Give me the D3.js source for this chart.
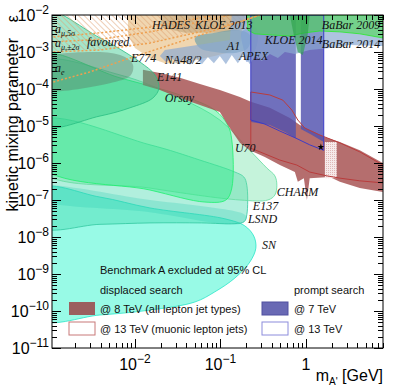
<!DOCTYPE html>
<html>
<head>
<meta charset="utf-8">
<script src="https://cdn.jsdelivr.net/npm/d3@7"></script>
<style>
body { margin: 0; background: #fff; }
svg { display: block; }
.lab { font-family: "Liberation Serif", serif; font-style: italic; font-size: 12px; fill: #111; }
.leg { font-family: "Liberation Sans", Arial, sans-serif; font-size: 11px; fill: #111; }
.tick { font-family: "Liberation Sans", Arial, sans-serif; font-size: 16px; fill: #000; }
</style>
</head>
<body>
<script>
// regions as [mass (GeV), epsilon]
var sn = [[7e-4,1.86e-7],[3.9e-3,1.2e-7],[0.015,6.1e-8],[0.113,3.1e-8],[0.193,2.0e-8],[0.246,1.06e-8],[0.26,5.0e-9],
  [0.221,2.1e-9],[0.148,7.8e-10],[0.0862,3.3e-10],[0.0503,1.75e-10],[0.015,1.06e-10],[3.9e-3,7.8e-11],[7e-4,6.5e-11]];
var e137 = [[7e-4,2.1e-8],[3.9e-3,2.2e-8],[0.015,2.4e-8],[0.06,2.4e-8],[0.148,2.3e-8],[0.19,2.6e-8],[0.204,4.0e-8],
  [0.204,2.5e-7],[0.188,4.2e-7],[0.148,5.7e-7],[0.0576,1.2e-6],[0.015,3.1e-6],[7e-4,1.28e-5]];
var lsnd = [[7e-4,2.2e-7],[0.015,1.0e-7],[0.148,5.0e-8],[0.188,4.2e-8],[0.204,3.3e-8],[0.183,2.4e-8],
  [0.129,2.2e-8],[0.015,4.7e-8],[7e-4,1.13e-7]];
var charm = [[7e-4,5e-4],[6.68e-3,2.4e-4],[0.0336,5.7e-5],[0.0986,1.45e-5],[0.221,2.2e-6],[0.35,7.3e-7],
  [0.434,4.5e-7],[0.458,2.5e-7],[0.434,1.36e-7],[0.36,1.0e-7],[0.169,1.0e-7],[0.015,2.1e-7],[7e-4,7.3e-7]];
var u70 = [[7e-4,8.3e-4],[6.68e-3,2.0e-4],[0.0336,6.9e-5],[0.0862,2.7e-5],[0.122,1.06e-5],[0.136,4.2e-6],
  [0.136,2.1e-7],[0.116,1.0e-7],[0.0659,8.8e-8],[0.015,1.86e-7],[7e-4,1.0e-6]];
var e141 = [[7e-4,1.5e-2],[3.9e-3,2.4e-3],[0.0114,5.4e-4],[0.0171,2.4e-4],[0.0191,1.06e-4],[0.0162,5.7e-5],
  [8.74e-3,3.1e-5],[3.9e-3,1.86e-5],[7e-4,1.06e-5]];
var e774 = [[7e-4,5.4e-4],[3.9e-3,1e-3],[7.64e-3,7.3e-4],[9.48e-3,4.5e-4],[8.98e-3,2.4e-4],[5.83e-3,1.55e-4],[7e-4,1.06e-4]];
var na48 = [[8.28e-3,1e-2],[8.28e-3,2.9e-3],[0.01,1.28e-3],[0.015,6.9e-4],[0.0224,5.0e-4],[0.0385,5.0e-4],
  [0.0576,6.5e-4],[0.0862,7.8e-4],[0.129,1e-3],[0.169,1.55e-3],[0.193,1e-2]];
var kloe13 = [[0.0196,1e-2],[0.0207,4.5e-3],[0.0385,3.3e-3],[0.0862,3.3e-3],[0.169,3.9e-3],[0.253,5.4e-3],[0.253,1e-2]];
var a1 = [[0.0503,2.4e-3],[0.0862,3.3e-3],[0.169,3.9e-3],[0.221,2.9e-3],[0.21,1.28e-3],[0.148,9.4e-4],[0.0862,1e-3],[0.0576,1.28e-3]];
var apex = [[0.178,3.5e-3],[0.26,4.5e-3],[0.275,2.1e-3],[0.24,8.3e-4],[0.204,5.4e-4],[0.188,1.13e-3]];
var babar14 = [[0.136,1e-2],[7.96,1e-2],[7.96,1.45e-3],[3.27,1.55e-3],[1.91,1.28e-3],[1.11,1.13e-3],[0.744,8.8e-4],
  [0.568,1e-3],[0.471,6.9e-4],[0.379,8.8e-4],[0.306,5.7e-4],[0.253,7.8e-4],[0.221,4.7e-4],[0.188,8.3e-4],
  [0.16,5.0e-4],[0.136,8.3e-4],[0.116,4.7e-4],[0.0986,7.8e-4],[0.0839,5.0e-4],[0.0714,7.3e-4],[0.0608,4.7e-4],
  [0.0517,6.9e-4],[0.044,4.5e-4],[0.0374,6.5e-4],[0.0318,4.7e-4],[0.0271,6.9e-4],[0.0231,5.4e-4],[0.0196,7.8e-4],
  [0.0224,1.13e-3],[0.129,2.1e-3]];
var babar09 = [[0.204,1e-2],[7.96,1e-2],[7.96,2.4e-3],[4.28,3.1e-3],[2.5,3.5e-3],[1.46,3.7e-3],[0.973,3.3e-3],
  [0.65,2.7e-3],[0.379,2.9e-3],[0.253,3.1e-3],[0.21,3.9e-3]];
var kloe14 = [[0.65,1e-2],[1.11,1e-2],[1.05,2.9e-3],[0.923,8.3e-4],[0.806,1e-3],[0.724,2.9e-3]];

var amu5 = [[1e-3,2.5e-3],[3.9e-3,3.3e-3],[0.015,4.7e-3],[0.0576,8.3e-3],[0.0862,1e-2]];
var amuUp = [[1e-3,1.86e-3],[3.9e-3,2.2e-3],[0.015,3.5e-3],[0.0576,6.5e-3],[0.129,1e-2]];
var amuLo = [[1e-3,1e-3],[3.9e-3,1.13e-3],[0.015,1.75e-3],[0.0576,3.5e-3],[0.169,6.5e-3],[0.29,1e-2]];
var ae = [[1e-3,1.45e-4],[2.98e-3,2.9e-4],[8.74e-3,6.9e-4],[0.0257,1.55e-3],[0.0753,3.5e-3],[0.29,1e-2]];

// ATLAS lepton-jet exclusions
var disp8 = [[0.0124,3.3e-4],[0.0196,2.7e-4],[0.0336,2.0e-4],[0.0576,1.36e-4],[0.0986,9.4e-5],[0.169,6.1e-5],
  [0.227,4.5e-5],[0.379,3.1e-5],[0.65,1.64e-5],[0.851,1.06e-5],[1.11,7.8e-6],[1.67,5.0e-6],[2.5,3.7e-6],
  [4.28,2.2e-6],[7.96,1.0e-6],[7.96,1.64e-7],[4.28,2.1e-7],[2.5,3.1e-7],[1.91,4.2e-7],[1.11,3.9e-7],
  [1.03,1.0e-7],[0.948,3.9e-7],[0.806,3.1e-7],[0.744,5.7e-7],[0.497,8.8e-7],[0.331,1.45e-6],[0.221,2.2e-6],
  [0.169,3.5e-6],[0.122,1.06e-5],[0.0986,2.4e-5],[0.0576,3.7e-5],[0.0336,5.7e-5],[0.0196,9.4e-5],[0.0124,1.28e-4]];
var disp13 = [[0.227,8.3e-5],[0.379,6.9e-5],[0.538,5.0e-5],[0.686,2.7e-5],[0.806,1.45e-5],[0.973,8.8e-6],
  [1.46,5.7e-6],[2.5,3.5e-6],[4.28,2.0e-6],[7.96,8.8e-7],[7.96,2.9e-7],[4.28,3.3e-7],[2.5,3.9e-7],
  [1.76,4.5e-7],[1.11,5.7e-7],[0.785,8.8e-7],[0.497,1.2e-6],[0.29,2.0e-6],[0.227,2.5e-6]];
var prompt7a = [[0.227,1e-2],[0.764,1e-2],[0.764,4.7e-6],[0.568,6.9e-6],[0.379,1.06e-5],[0.227,1.28e-5]];
var prompt7b = [[0.874,1e-2],[1.62,1e-2],[1.62,3.7e-6],[1.18,5.7e-6],[0.874,8.3e-6]];
var prompt13 = [[0.227,1e-2],[0.227,1.45e-5],[0.331,1.13e-5],[0.497,7.3e-6],[0.764,4.7e-6],[1.11,3.1e-6],[1.62,2.2e-6],[1.62,1e-2]];
var vetoBox = [[1.67,3.7e-6],[2.3,3.7e-6],[2.3,3.9e-7],[1.67,3.9e-7]];
var starPt = [1.5, 2.7e-6];

var labels = [
  ["HADES", 0.0158, 4.2e-3], ["KLOE 2013", 0.0503, 4.2e-3], ["BaBar 2009", 1.54, 4.2e-3],
  ["KLOE 2014", 0.331, 1.64e-3], ["BaBar 2014", 1.54, 1.28e-3], ["A1", 0.119, 1.13e-3],
  ["APEX", 0.165, 6.1e-4], ["E774", 8.98e-3, 5.4e-4], ["NA48/2", 0.0224, 4.7e-4],
  ["E141", 0.0181, 1.64e-4], ["Orsay", 0.0224, 4.5e-5], ["U70", 0.148, 2.0e-6],
  ["CHARM", 0.458, 1.28e-7], ["E137", 0.24, 5.4e-8], ["LSND", 0.21, 2.4e-8], ["SN", 0.306, 4.7e-9]
];
var xTickLabels = [[0.01, "10", "\u22122"], [0.1, "10", "\u22121"], [1, "1", ""]];
var yDecades = [-2, -3, -4, -5, -6, -7, -8, -9, -10, -11];

var W = 399, H = 387;
var x = d3.scaleLog().domain([1.07e-3, 8]).range([52, 383]);
var y = d3.scaleLog().domain([1e-11, 1e-2]).range([348, 15]);

var svg = d3.select("body").append("svg").attr("width", W).attr("height", H);
var defs = svg.append("defs");
defs.append("clipPath").attr("id", "plot")
  .append("rect").attr("x", 52).attr("y", 15).attr("width", 331).attr("height", 333);

var hatch = defs.append("pattern").attr("id", "hatch").attr("patternUnits", "userSpaceOnUse")
  .attr("width", 4).attr("height", 4).attr("patternTransform", "rotate(-45)");
hatch.append("line").attr("x1", 0).attr("y1", 0).attr("x2", 0).attr("y2", 4)
  .attr("stroke", "#e0a070").attr("stroke-width", 1);
var cross = defs.append("pattern").attr("id", "cross").attr("patternUnits", "userSpaceOnUse")
  .attr("width", 2).attr("height", 2);
cross.append("rect").attr("width", 2).attr("height", 2).attr("fill", "#f6eaea");
cross.append("rect").attr("width", 1).attr("height", 1).attr("fill", "#e0b8b8");

var openLine = d3.line().x(function(d) { return x(d[0]); }).y(function(d) { return y(d[1]); });
var polyLine = d3.line().x(function(d) { return x(d[0]); }).y(function(d) { return y(d[1]); }).curve(d3.curveLinearClosed);
var smoothLine = d3.line().x(function(d) { return x(d[0]); }).y(function(d) { return y(d[1]); }).curve(d3.curveCatmullRomClosed.alpha(0.5));

var g = svg.append("g").attr("clip-path", "url(#plot)");

function region(data, path, fill, op, stroke) {
  g.append("path").attr("d", path(data)).attr("fill", fill).attr("fill-opacity", op)
    .attr("stroke", stroke || "none").attr("stroke-width", 1).attr("stroke-opacity", 0.8);
}

// beam dump and supernova bounds
region(sn, smoothLine, "rgb(50,245,205)", 0.5, "rgb(40,230,200)");
region(e137, smoothLine, "rgb(60,215,170)", 0.4, "rgb(50,200,160)");
region(lsnd, smoothLine, "rgb(30,200,175)", 0.25);
region(charm, smoothLine, "rgb(110,225,165)", 0.4, "rgb(100,220,160)");
region(u70, smoothLine, "rgb(45,235,135)", 0.45, "rgb(30,240,110)");

// displaced 8 TeV band
region(disp8, polyLine, "rgb(168,85,85)", 0.85);
region(vetoBox, polyLine, "url(#cross)", 1);

region(e141, smoothLine, "rgb(50,200,140)", 0.45, "rgb(40,190,130)");
region(e774, smoothLine, "rgb(90,120,100)", 0.4);

region(na48, polyLine, "rgb(235,200,150)", 0.75);

// muon g-2: hatched down to the lower edge of the favoured band
g.append("path").attr("d", polyLine([[7e-4, 1e-2]].concat(amuLo))).attr("fill", "url(#hatch)");

region(kloe13, polyLine, "rgb(150,120,70)", 0.3);
region(a1, smoothLine, "rgb(90,150,170)", 0.6);
region(apex, smoothLine, "rgb(90,130,210)", 0.55);

// prompt 7 TeV
region(prompt7a, polyLine, "rgb(80,80,175)", 0.82);
region(prompt7b, polyLine, "rgb(80,80,175)", 0.82);

region(babar14, polyLine, "rgb(140,170,210)", 0.7);
region(babar09, polyLine, "rgb(70,220,70)", 0.55, "rgb(40,235,40)");
region(kloe14, polyLine, "rgb(40,160,70)", 0.6);

// 13 TeV outlines
g.append("path").attr("d", polyLine(disp13)).attr("fill", "none").attr("stroke", "rgb(185,60,60)").attr("stroke-width", 1);
g.append("path").attr("d", polyLine(prompt13)).attr("fill", "none").attr("stroke", "rgb(60,60,200)").attr("stroke-width", 1);
g.append("path").attr("d", d3.symbol(d3.symbolStar, 14)())
  .attr("transform", "translate(" + x(starPt[0]) + "," + y(starPt[1]) + ")").attr("fill", "#000");

// dashed g-2 lines
[amu5, amuUp, amuLo, ae].forEach(function(d) {
  g.append("path").attr("d", openLine(d)).attr("fill", "none").attr("stroke", "#eea050")
    .attr("stroke-width", 1.5).attr("stroke-dasharray", "2,2");
});

// region labels
labels.forEach(function(l) {
  svg.append("text").attr("class", "lab").attr("x", x(l[1])).attr("y", y(l[2])).text(l[0]);
});
function sub(main, s, px, py) {
  var t = svg.append("text").attr("class", "lab").attr("x", x(px)).attr("y", y(py));
  t.append("tspan").text(main);
  t.append("tspan").attr("font-size", "8px").attr("dy", 3).text(s);
  return t;
}
sub("a", "\u03bc,5\u03c3", 1.16e-3, 3.3e-3);
sub("a", "\u03bc,\u00b12\u03c3", 1.16e-3, 1.36e-3);
svg.append("text").attr("class", "lab").attr("x", x(2.75e-3)).attr("y", y(1.45e-3)).text("favoured");
sub("a", "e", 1.16e-3, 2.9e-4);

// legend
svg.append("text").attr("class", "leg").attr("x", 100).attr("y", 274).text("Benchmark A excluded at 95% CL");
svg.append("text").attr("class", "leg").attr("x", 100).attr("y", 294).text("displaced search");
svg.append("text").attr("class", "leg").attr("x", 294).attr("y", 294).text("prompt search");
var legRows = [
  [69, 302, "rgb(155,95,95)", "none", "@ 8 TeV (all lepton jet types)", 100],
  [69, 322, "#fff", "rgb(200,120,120)", "@ 13 TeV (muonic lepton jets)", 100],
  [262, 302, "rgb(105,105,180)", "rgb(80,80,160)", "@ 7 TeV", 294],
  [262, 322, "#fff", "rgb(140,140,220)", "@ 13 TeV", 294]
];
legRows.forEach(function(r) {
  svg.append("rect").attr("x", r[0]).attr("y", r[1]).attr("width", 26).attr("height", 13)
    .attr("fill", r[2]).attr("stroke", r[3]);
  svg.append("text").attr("class", "leg").attr("x", r[5]).attr("y", r[1] + 11).text(r[4]);
});

// axes: frame and inward ticks on all sides
var ax = svg.append("g").attr("stroke", "#000").attr("stroke-width", 1);
ax.append("rect").attr("x", 52).attr("y", 15).attr("width", 331).attr("height", 333).attr("fill", "none");
var xt = [];
for (var e = -3; e <= 0; e++) for (var k = 1; k <= 9; k++) {
  var v = k * Math.pow(10, e);
  if (v >= 1.07e-3 && v <= 8) xt.push([v, k === 1]);
}
xt.forEach(function(t) {
  var px = Math.round(x(t[0])) + 0.5, len = t[1] ? 9 : 5;
  ax.append("line").attr("x1", px).attr("x2", px).attr("y1", 348).attr("y2", 348 - len);
  ax.append("line").attr("x1", px).attr("x2", px).attr("y1", 15).attr("y2", 15 + len);
});
var yt = [];
for (var e2 = -11; e2 < -2; e2++) for (var k2 = 1; k2 <= 9; k2++) yt.push([k2 * Math.pow(10, e2), k2 === 1]);
yt.push([1e-2, true]);
yt.forEach(function(t) {
  var py = Math.round(y(t[0])) + 0.5, len = t[1] ? 9 : 5;
  ax.append("line").attr("x1", 52).attr("x2", 52 + len).attr("y1", py).attr("y2", py);
  ax.append("line").attr("x1", 383).attr("x2", 383 - len).attr("y1", py).attr("y2", py);
});

yDecades.forEach(function(d) {
  var t = svg.append("text").attr("class", "tick").attr("x", 49).attr("y", y(Math.pow(10, d)) + 6)
    .attr("text-anchor", "end");
  t.append("tspan").text("10");
  t.append("tspan").attr("font-size", "12px").attr("dy", -7).text("\u2212" + (-d));
});
xTickLabels.forEach(function(d) {
  var t = svg.append("text").attr("class", "tick").attr("x", x(d[0])).attr("y", 370).attr("text-anchor", "middle");
  t.append("tspan").text(d[1]);
  if (d[2]) t.append("tspan").attr("font-size", "12px").attr("dy", -7).text(d[2]);
});

// axis titles
var xl = svg.append("text").attr("class", "tick").attr("x", 383).attr("y", 381).attr("text-anchor", "end");
xl.append("tspan").text("m");
xl.append("tspan").attr("font-size", "10px").attr("dy", 4).text("A'");
xl.append("tspan").attr("dy", -4).text(" [GeV]");
svg.append("text").attr("class", "tick").attr("transform", "translate(18,38) rotate(-90)")
  .attr("text-anchor", "end").attr("font-size", "17px").text("kinetic mixing parameter");
svg.append("text").attr("class", "tick").attr("transform", "translate(18,15) rotate(-90)")
  .attr("text-anchor", "end").attr("font-size", "16px").text("\u03b5");
</script>
</body>
</html>
